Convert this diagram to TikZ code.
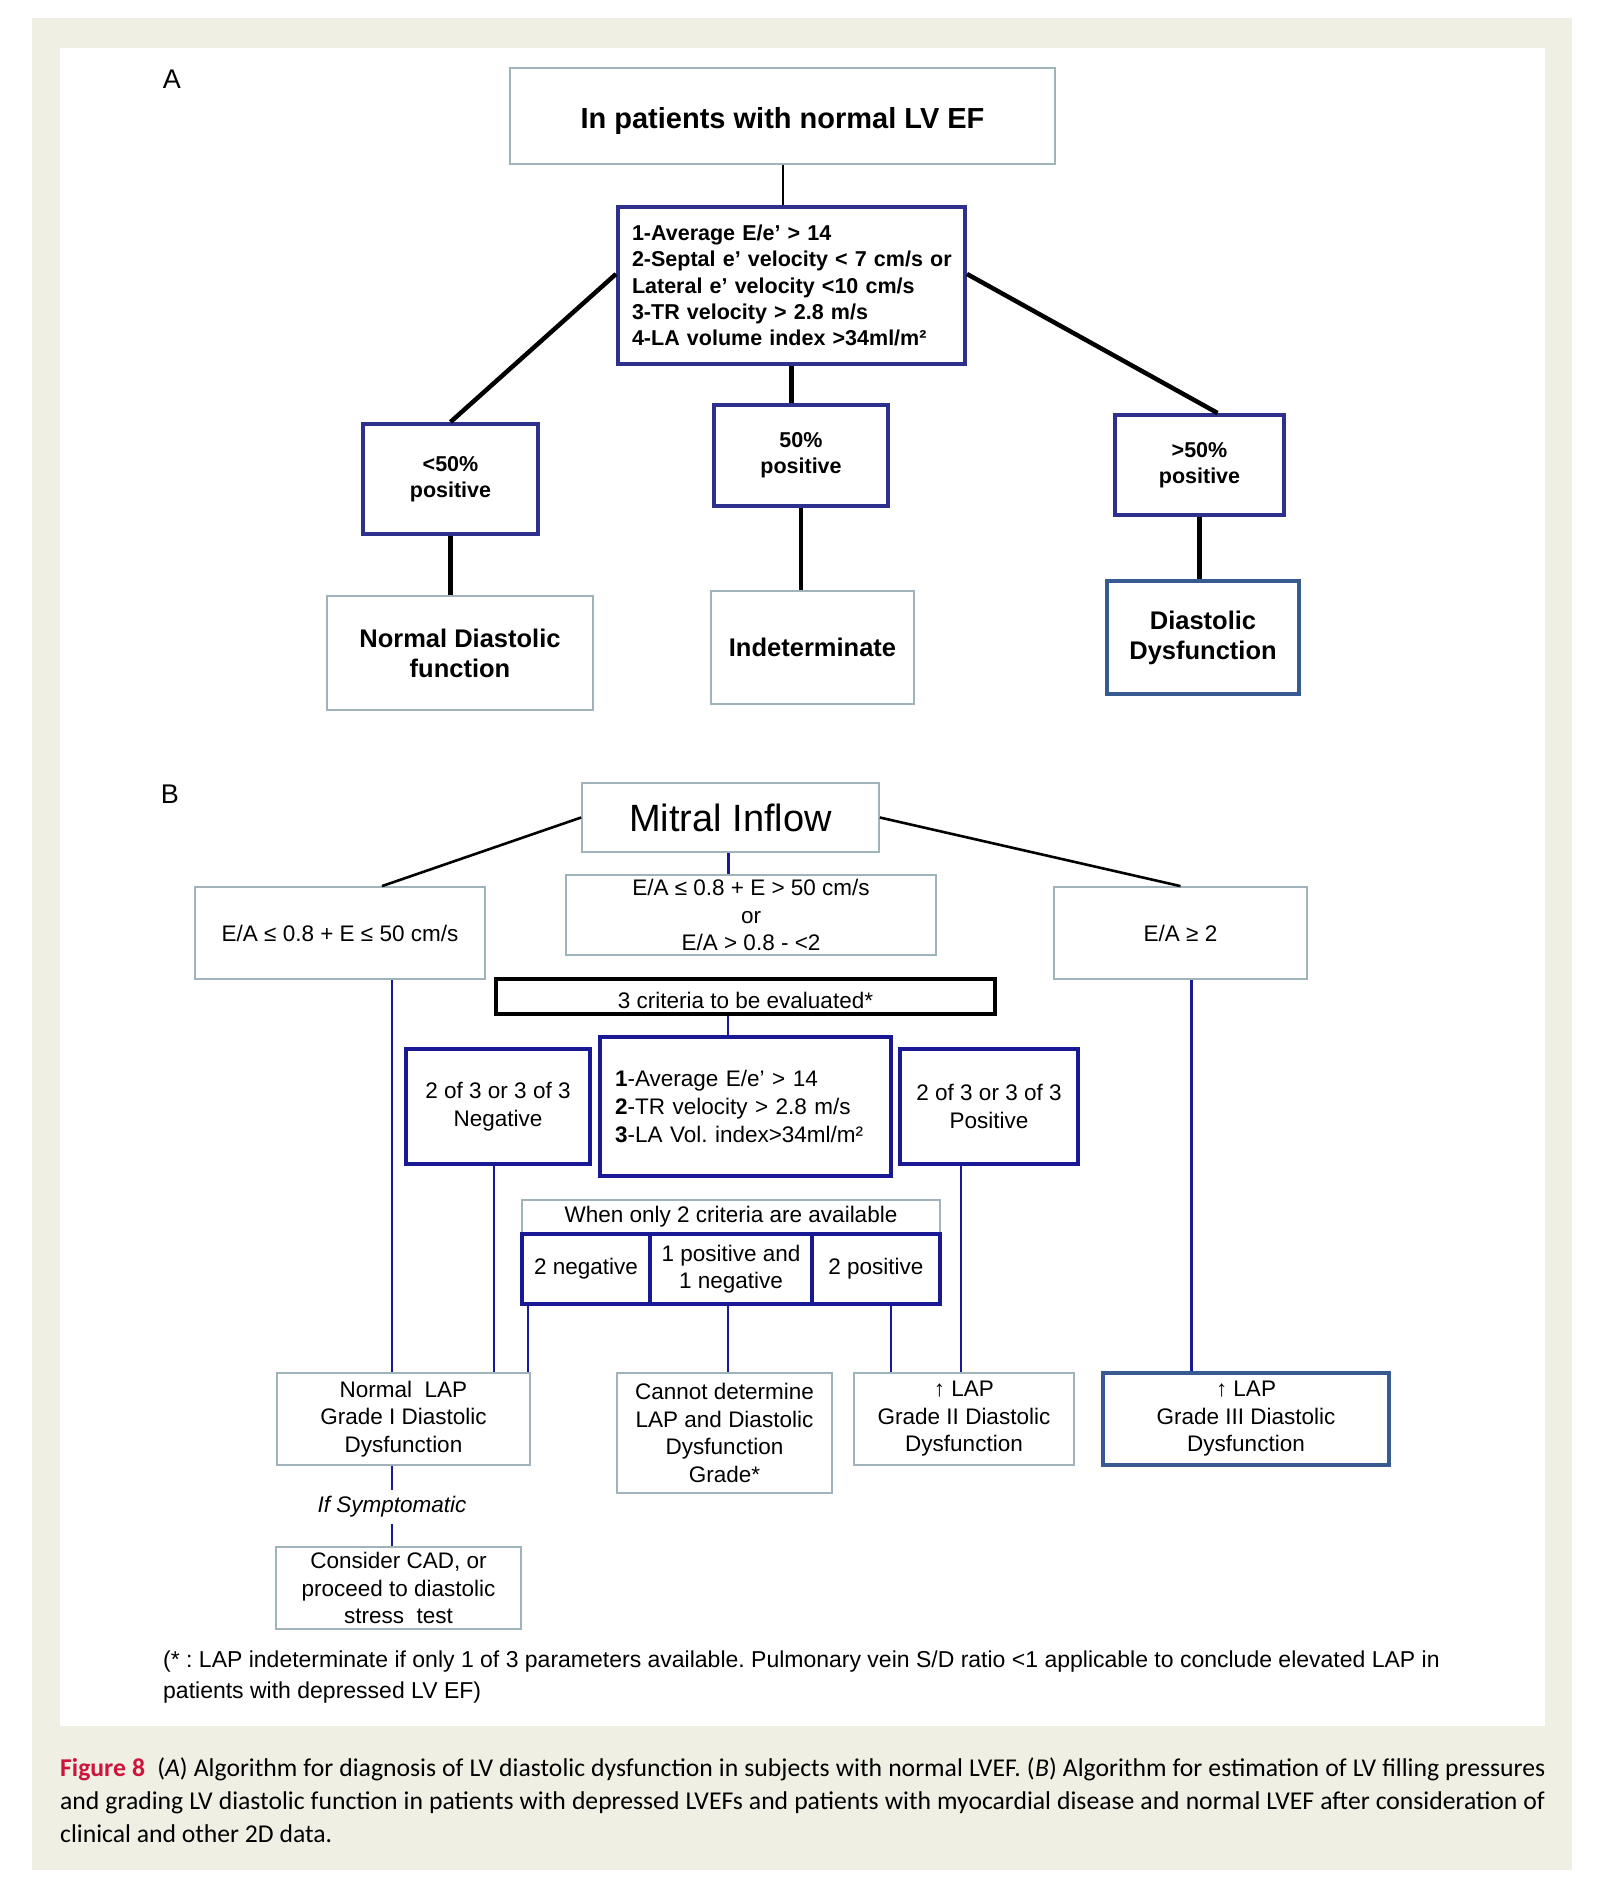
\documentclass[tikz,border=0pt]{standalone}
\usepackage{fontspec}
\setmainfont{Liberation Sans}
\newfontfamily\capfont{Carlito}
\usetikzlibrary{calc}
\definecolor{beige}{RGB}{239,239,228}
\definecolor{grayb}{RGB}{160,178,186}
\definecolor{navA}{RGB}{45,48,140}
\definecolor{navB}{RGB}{25,25,150}
\definecolor{steelb}{RGB}{55,90,145}
\definecolor{capred}{RGB}{205,20,60}
\newcommand\setfs[2]{\fontsize{#1}{#2}\selectfont}
\newlength\capw
\begin{document}
\frenchspacing
\settowidth\capw{\capfont\fontsize{10}{12}\selectfont\frenchspacing and grading LV diastolic function in patients with depressed LVEFs and patients with myocardial disease and normal LVEF after consideration of}
\pgfmathsetmacro\capsize{10*1480/\capw}
\begin{tikzpicture}[x=1pt,y=-1pt,
  gbox/.style={draw=grayb, line width=1.8pt, fill=white, inner sep=0pt, align=center},
  abox/.style={draw=navA, line width=4pt, fill=white, inner sep=0pt, align=center},
  bbox/.style={draw=navB, line width=4pt, fill=white, inner sep=0pt, align=center},
  sbox/.style={draw=steelb, line width=3.5pt, fill=white, inner sep=0pt, align=center},
  kbox/.style={draw=black, line width=4pt, fill=white, inner sep=0pt, align=center},
  fA/.style={font=\bfseries\setfs{21.5}{26}},
  fAL/.style={font=\bfseries\setfs{25.5}{30}},
  fB/.style={font=\setfs{22.5}{27.5}},
  conA/.style={line width=4.5pt, black},
  conAt/.style={line width=2pt, black},
  conB/.style={line width=2.2pt, navB},
  conBk/.style={line width=2.6pt, black}]
\fill[white] (0,0) rectangle (1608,1878);
\useasboundingbox (0,0) rectangle (1608,1878);
\fill[beige] (32,18) rectangle (1572,1870);
\fill[white] (60,48) rectangle (1545,1726);

% ---------- Panel A ----------
\node[font=\setfs{27}{30}] (labA) at (172,79) {A};
\node[gbox, minimum width=545, minimum height=96, font=\bfseries\setfs{29}{35}] (top) at (782.5,116) {\raisebox{-5pt}[\height][\depth]{In patients with normal LV EF}};
\node[abox, minimum width=347, minimum height=157, text width=319, inner xsep=14pt, align=left, font=\bfseries\setfs{21.5}{26.3}] (critA) at (791.5,285.5)
  {\mbox{1-Average E/e’ > 14}\\\mbox{2-Septal e’ velocity < 7 cm/s or}\\\mbox{Lateral e’ velocity <10 cm/s}\\\mbox{3-TR velocity > 2.8 m/s}\\\mbox{4-LA volume index >34ml/m²}};
\node[abox, fA, minimum width=175, minimum height=110] (lt50) at (450.5,479) {<50\%\\positive};
\node[abox, fA, minimum width=174, minimum height=101] (eq50) at (801,455.5) {50\%\\positive};
\node[abox, fA, minimum width=169, minimum height=100] (gt50) at (1199.5,465) {>50\%\\positive};
\node[gbox, fAL, minimum width=266, minimum height=114] (ndf) at (460,653) {Normal Diastolic\\function};
\node[gbox, fAL, minimum width=203, minimum height=113] (ind) at (812.5,647.5) {Indeterminate};
\node[sbox, fAL, minimum width=192, minimum height=113] (dd) at (1203,637.5) {Diastolic\\Dysfunction};

\draw[conAt] (top.south) -- (top.south |- critA.north);
\draw[conA] ([yshift=11.5pt]critA.west) -- (lt50.north);
\draw[conA] ([yshift=11.5pt]critA.east) -- ([xshift=18pt]gt50.north);
\draw[conA] (critA.south) -- (critA.south |- eq50.north);
\draw[conA] (lt50.south) -- (lt50.south |- ndf.north);
\draw[conA] (eq50.south) -- (eq50.south |- ind.north);
\draw[conA] (gt50.south) -- (gt50.south |- dd.north);

% ---------- Panel B ----------
\node[font=\setfs{27}{30}] (labB) at (170,794) {B};
\node[gbox, minimum width=297, minimum height=69, font=\setfs{38}{44}] (mi) at (730.5,817.5) {Mitral Inflow};
\node[gbox, fB, minimum width=290, minimum height=92] (ea1) at (340,933) {E/A ≤ 0.8 + E ≤ 50 cm/s};
\node[gbox, fB, minimum width=370, minimum height=80] (ea2) at (751,915) {E/A ≤ 0.8 + E > 50 cm/s\\or\\E/A > 0.8 - <2};
\node[gbox, fB, minimum width=253, minimum height=92] (ea3) at (1180.5,933) {E/A ≥ 2};
\node[kbox, fB, minimum width=499, minimum height=35] (c3) at (745.5,996.5) {\raisebox{-4pt}[\height][\depth]{3 criteria to be evaluated*}};
\node[bbox, font=\setfs{22.5}{28}, minimum width=291, minimum height=139, text width=261, inner xsep=15pt, align=left] (critB) at (745.5,1106.5)
  {\mbox{\textbf{1}-Average E/e' > 14}\\\mbox{\textbf{2}-TR velocity > 2.8 m/s}\\\mbox{\textbf{3}-LA Vol. index>34ml/m²}};
\node[bbox, fB, minimum width=184, minimum height=115] (neg) at (498,1106.5) {2 of 3 or 3 of 3\\Negative};
\node[bbox, fB, minimum width=178, minimum height=115] (pos) at (989,1106.5) {2 of 3 or 3 of 3\\Positive};
\node[gbox, fB, minimum width=418, minimum height=34] (when) at (731,1217) {When only 2 criteria are available};
\node[bbox, fB, minimum width=128, minimum height=70] (n2) at (586,1269) {2 negative};
\node[bbox, fB, minimum width=162, minimum height=70] (pn) at (731,1269) {1 positive and\\1 negative};
\node[bbox, fB, minimum width=128, minimum height=70] (p2) at (876,1269) {2 positive};

\node[gbox, fB, minimum width=253, minimum height=92] (nlap) at (403.5,1419) {Normal\ \ LAP\\Grade I Diastolic\\Dysfunction};
\node[gbox, fB, minimum width=215, minimum height=120] (cnd) at (724.5,1433) {Cannot determine\\LAP and Diastolic\\Dysfunction\\Grade*};
\node[gbox, fB, minimum width=220, minimum height=92] (lap2) at (964,1419) {↑ LAP\\Grade II Diastolic\\Dysfunction};
\node[sbox, fB, minimum width=286, minimum height=92] (lap3) at (1246,1419) {↑ LAP\\Grade III Diastolic\\Dysfunction};
\node[font=\itshape\setfs{22.5}{27.5}, inner xsep=2pt, inner ysep=6pt] (sym) at (392,1507) {If Symptomatic};
\node[gbox, fB, minimum width=245, minimum height=82] (cad) at (398.5,1588) {Consider CAD, or\\proceed to diastolic\\stress\ \ test};

\draw[conBk] (mi.west) -- ([xshift=42pt]ea1.north);
\draw[conBk] (mi.east) -- (ea3.north);
\draw[conB] ([xshift=-2pt]mi.south) -- ([xshift=-2pt]mi.south |- ea2.north);
\draw[conB] ([xshift=-17.5pt]c3.south) -- ([xshift=-17.5pt]c3.south |- critB.north);
\draw[conB] ([xshift=52pt]ea1.south) -- ([xshift=52pt]ea1.south |- nlap.north);
\draw[conB] ([xshift=-4pt]neg.south) -- ([xshift=-4pt]neg.south |- nlap.north);
\draw[conB] ([xshift=-58pt]n2.south) -- ([xshift=-58pt]n2.south |- nlap.north);
\draw[conB] ([xshift=-3pt]pn.south) -- ([xshift=-3pt]pn.south |- cnd.north);
\draw[conB] ([xshift=15pt]p2.south) -- ([xshift=15pt]p2.south |- lap2.north);
\draw[conB] ([xshift=-28pt]pos.south) -- ([xshift=-28pt]pos.south |- lap2.north);
\draw[conB] ([xshift=11pt]ea3.south) -- ([xshift=11pt]ea3.south |- lap3.north);
\draw[conB] (nlap.south -| sym) -- (sym.north);
\draw[conB] (sym.south) -- (sym.south |- cad.north);

\node[anchor=north west, align=left, inner sep=0pt, font=\setfs{23}{31}] (fn) at (163,1651)
  {(* : LAP indeterminate if only 1 of 3 parameters available. Pulmonary vein S/D ratio <1 applicable to conclude elevated LAP in\\patients with depressed LV EF)};

% ---------- Caption ----------
\node[anchor=base west, inner sep=0pt, font=\capfont\setfs{\capsize}{30}] (cap1) at (60,1776)
  {\makebox[1485pt][s]{\textcolor{capred}{\textbf{Figure 8}}\ \ (\textit{A}) Algorithm for diagnosis of LV diastolic dysfunction in subjects with normal LVEF. (\textit{B}) Algorithm for estimation of LV filling pressures}};
\node[anchor=base west, inner sep=0pt, font=\capfont\setfs{\capsize}{30}] (cap2) at (60,1809)
  {\makebox[1485pt][s]{and grading LV diastolic function in patients with depressed LVEFs and patients with myocardial disease and normal LVEF after consideration of}};
\node[anchor=base west, inner sep=0pt, font=\capfont\setfs{\capsize}{30}] (cap3) at (60,1842)
  {clinical and other 2D data.};
\end{tikzpicture}
\end{document}
